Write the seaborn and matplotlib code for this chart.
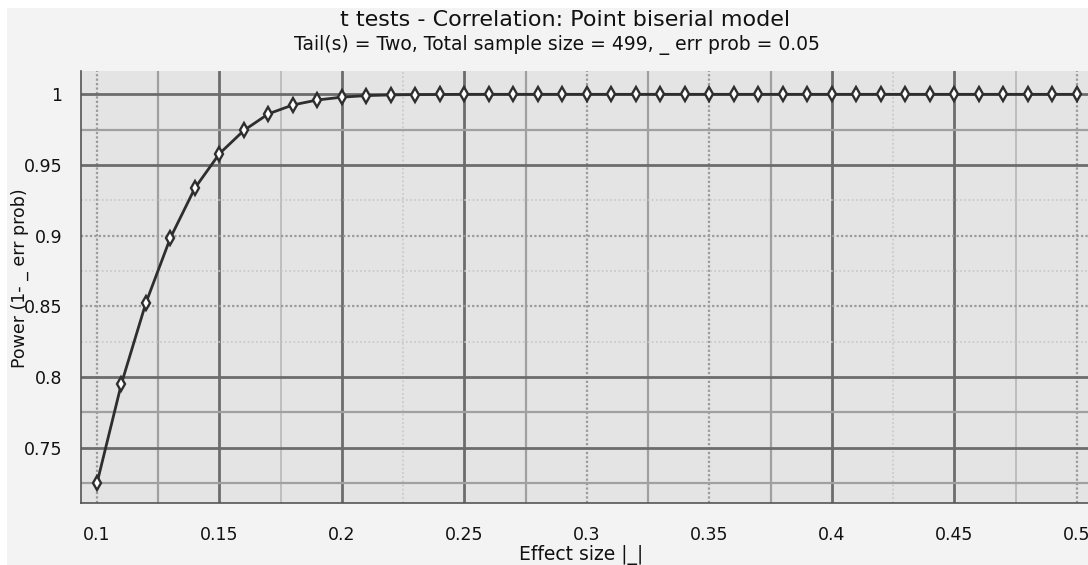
import matplotlib
matplotlib.use("Agg")
import matplotlib.pyplot as plt
from matplotlib.patches import Rectangle
import pandas as pd
import seaborn as sns

# valores (G*Power, point biserial, N = 499)
effect_size = [0.10, 0.11, 0.12, 0.13, 0.14, 0.15, 0.16, 0.17, 0.18, 0.19,
               0.20, 0.21, 0.22, 0.23, 0.24, 0.25, 0.26, 0.27, 0.28, 0.29,
               0.30, 0.31, 0.32, 0.33, 0.34, 0.35, 0.36, 0.37, 0.38, 0.39,
               0.40, 0.41, 0.42, 0.43, 0.44, 0.45, 0.46, 0.47, 0.48, 0.49,
               0.50]
power = [0.7248, 0.7953, 0.8525, 0.8985, 0.9337, 0.9580, 0.9745, 0.9862, 0.9925, 0.9960,
         0.9980, 0.9991, 0.9996, 0.9998, 0.9999, 1.0, 1.0, 1.0, 1.0, 1.0,
         1.0, 1.0, 1.0, 1.0, 1.0, 1.0, 1.0, 1.0, 1.0, 1.0,
         1.0, 1.0, 1.0, 1.0, 1.0, 1.0, 1.0, 1.0, 1.0, 1.0,
         1.0]

x_ticks = [0.1, 0.15, 0.2, 0.25, 0.3, 0.35, 0.4, 0.45, 0.5]
x_tick_labels = ['0.1', '0.15', '0.2', '0.25', '0.3', '0.35', '0.4', '0.45', '0.5']
x_minor = [0.125, 0.175, 0.225, 0.275, 0.325, 0.375, 0.425, 0.475]
y_ticks = [0.75, 0.8, 0.85, 0.9, 0.95, 1.0]
y_tick_labels = ['0.75', '0.8', '0.85', '0.9', '0.95', '1']
y_minor = [0.725, 0.775, 0.825, 0.875, 0.925, 0.975]

df = pd.DataFrame({'effect': effect_size, 'power': power})

sns.set_style('white')
plt.rcParams['font.family'] = ['DejaVu Sans']

# estilos de la rejilla (como en G*Power)
OSCURO = dict(color='#6c6c6c', lw=2.0, ls='-')
MEDIO = dict(color='#a0a0a0', lw=1.6, ls='-')
CLARO = dict(color='#bdbdbd', lw=1.4, ls='-')
PUNTOS = dict(color='#9a9a9a', lw=1.6, ls=(0, (1, 1)))
PUNTOS_CLARO = dict(color='#c6c6c6', lw=1.2, ls=(0, (1, 1.5)))

grid_x = {0.1: PUNTOS, 0.125: MEDIO, 0.15: OSCURO, 0.175: CLARO, 0.2: OSCURO,
          0.225: PUNTOS_CLARO, 0.25: OSCURO, 0.275: MEDIO, 0.3: PUNTOS,
          0.325: MEDIO, 0.35: PUNTOS, 0.375: MEDIO, 0.4: OSCURO,
          0.425: PUNTOS_CLARO, 0.45: OSCURO, 0.475: CLARO, 0.5: PUNTOS}
grid_y = {1.0: OSCURO, 0.975: MEDIO, 0.95: OSCURO, 0.925: PUNTOS_CLARO,
          0.9: PUNTOS, 0.875: PUNTOS_CLARO, 0.85: PUNTOS, 0.825: PUNTOS_CLARO,
          0.8: OSCURO, 0.775: MEDIO, 0.75: OSCURO, 0.725: MEDIO}

fig = plt.figure(figsize=(10.88, 5.65), dpi=100, facecolor='white')
fig.patches.append(Rectangle((7 / 1088, 0), 1, 1 - 8 / 565, transform=fig.transFigure,
                             facecolor='#f3f3f3', edgecolor='none', zorder=-10))
ax = fig.add_axes([81 / 1088, 1 - 503 / 565, 1 - 81 / 1088, (503 - 71) / 565])
ax.set_facecolor('#e4e4e4')

for xv, st in grid_x.items():
    ax.axvline(xv, zorder=1, **st)
for yv, st in grid_y.items():
    ax.axhline(yv, zorder=1, **st)

sns.lineplot(data=df, x='effect', y='power', ax=ax, color='#2e2e2e', linewidth=2.0,
             marker='d', markersize=7.5, markerfacecolor='white',
             markeredgecolor='#2e2e2e', markeredgewidth=1.7, zorder=3)

ax.set_xlim(0.0935, 0.5045)
ax.set_ylim(0.7109, 1.0165)
ax.set_xticks(x_ticks)
ax.set_xticklabels(x_tick_labels)
ax.set_xticks(x_minor, minor=True)
ax.set_yticks(y_ticks)
ax.set_yticklabels(y_tick_labels)
ax.set_yticks(y_minor, minor=True)
ax.tick_params(axis='both', which='both', direction='out', length=10, width=1.1,
               color='#555555', labelsize=12.5, labelcolor='#111111')
ax.tick_params(axis='x', which='both', pad=6.5)
ax.tick_params(axis='y', which='both', pad=3.5)
ax.set_xlabel('')
ax.set_ylabel('')

for lado in ['top', 'right']:
    ax.spines[lado].set_visible(False)
for lado in ['left', 'bottom']:
    ax.spines[lado].set_color('#555555')
    ax.spines[lado].set_linewidth(1.2)

fig.text(565 / 1088, 1 - 20 / 565, 't tests - Correlation: Point biserial model',
         ha='center', va='center', fontsize=16, color='#111111')
fig.text(557 / 1088, 1 - 45 / 565, 'Tail(s) = Two, Total sample size = 499, _ err prob = 0.05',
         ha='center', va='center', fontsize=13.5, color='#111111')
fig.text(581 / 1088, 1 - 555 / 565, 'Effect size |_|', ha='center', va='center',
         fontsize=13.5, color='#111111')
fig.text(20 / 1088, 1 - 278 / 565, 'Power (1- _ err prob)', ha='center', va='center',
         rotation=90, fontsize=12.5, color='#111111')

fig.savefig('out.png', dpi=100, facecolor=fig.get_facecolor())
